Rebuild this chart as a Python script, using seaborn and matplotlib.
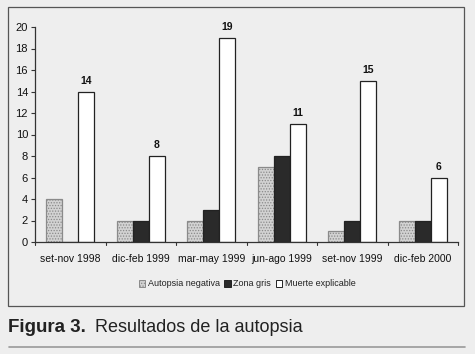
import matplotlib
matplotlib.use("Agg")
import matplotlib.pyplot as plt
import seaborn as sns
import pandas as pd
from matplotlib.patches import Rectangle
from matplotlib.lines import Line2D

categories = ["set-nov 1998", "dic-feb 1999", "mar-may 1999", "jun-ago 1999", "set-nov 1999", "dic-feb 2000"]
series = ["Autopsia negativa", "Zona gris", "Muerte explicable"]
autopsia_negativa = [4, 2, 2, 7, 1, 2]
zona_gris = [0, 2, 3, 8, 2, 2]
muerte_explicable = [14, 8, 19, 11, 15, 6]
yticks = [0, 2, 4, 6, 8, 10, 12, 14, 16, 18, 20]

rows = []
for s, vals in zip(series, [autopsia_negativa, zona_gris, muerte_explicable]):
    for c, v in zip(categories, vals):
        rows.append({"cat": c, "serie": s, "val": v})
df = pd.DataFrame(rows)

sns.set_style("white")
plt.rcParams["font.family"] = ["Liberation Sans", "DejaVu Sans"]
plt.rcParams["hatch.linewidth"] = 0.6

bg = "#eeeeee"
fig = plt.figure(figsize=(4.75, 3.54), dpi=100, facecolor=bg)
ax = fig.add_axes([35/475, 1-242/354, 423/475, 215/354])
ax.set_facecolor(bg)

palette = {"Autopsia negativa": "#d2d2d2", "Zona gris": "#2a2a2a", "Muerte explicable": "#ffffff"}
sns.barplot(data=df, x="cat", y="val", hue="serie", order=categories, hue_order=series,
            palette=palette, width=0.68, edgecolor="#222222", linewidth=0.9,
            saturation=1, legend=False, ax=ax)

for cont, s in zip(ax.containers, series):
    for p in cont.patches:
        if s == "Autopsia negativa":
            p.set_hatch("......")
            p.set_edgecolor("#8a8a8a")
    if s == "Muerte explicable":
        ax.bar_label(cont, labels=[str(v) for v in muerte_explicable], padding=4,
                     fontsize=7.5, fontweight="bold", color="#111111")

ax.set_ylim(0, 20)
ax.set_xlim(-0.5, 5.5)
ax.set_yticks(yticks)
ax.set_yticklabels([str(t) for t in yticks], fontsize=8, color="#111111")
ax.set_xticks(range(len(categories)))
ax.set_xticklabels(categories, fontsize=7.5, color="#111111")
ax.tick_params(axis="y", length=3, width=0.8, color="#333333", pad=2, left=True)
ax.tick_params(axis="x", length=0, pad=9)
for i in range(len(categories) + 1):
    ax.plot([i - 0.5, i - 0.5], [0, -0.3], color="#333333", lw=0.8, clip_on=False)
ax.set_xlabel("")
ax.set_ylabel("")
for side in ["top", "right"]:
    ax.spines[side].set_visible(False)
for side in ["left", "bottom"]:
    ax.spines[side].set_color("#333333")
    ax.spines[side].set_linewidth(0.9)

handles = [Rectangle((0, 0), 1, 1, facecolor=palette[s],
                     edgecolor="#222222" if s != "Autopsia negativa" else "#8a8a8a",
                     hatch="......" if s == "Autopsia negativa" else None, linewidth=0.7) for s in series]
leg = fig.legend(handles, series, loc="center", bbox_to_anchor=(247/475, 1-284/354), ncol=3,
                 frameon=False, fontsize=6.5, handlelength=0.7, handleheight=0.7,
                 handletextpad=0.3, columnspacing=0.5)
for t in leg.get_texts():
    t.set_color("#222222")

fig.patches.append(Rectangle((8/475, 1-306/354), 456/475, 299/354, transform=fig.transFigure,
                             fill=False, edgecolor="#555555", linewidth=0.9))
fig.text(8/475, 1-332/354, "Figura 3.", fontsize=13.5, fontweight="bold", color="#222222",
         va="baseline", ha="left")
fig.text(95/475, 1-332/354, "Resultados de la autopsia", fontsize=13, color="#222222",
         va="baseline", ha="left")
fig.lines.append(Line2D([9/475, 465/475], [1-347/354, 1-347/354], transform=fig.transFigure,
                        color="#999999", linewidth=1.2))

fig.savefig("out.png", dpi=100, facecolor=bg)
